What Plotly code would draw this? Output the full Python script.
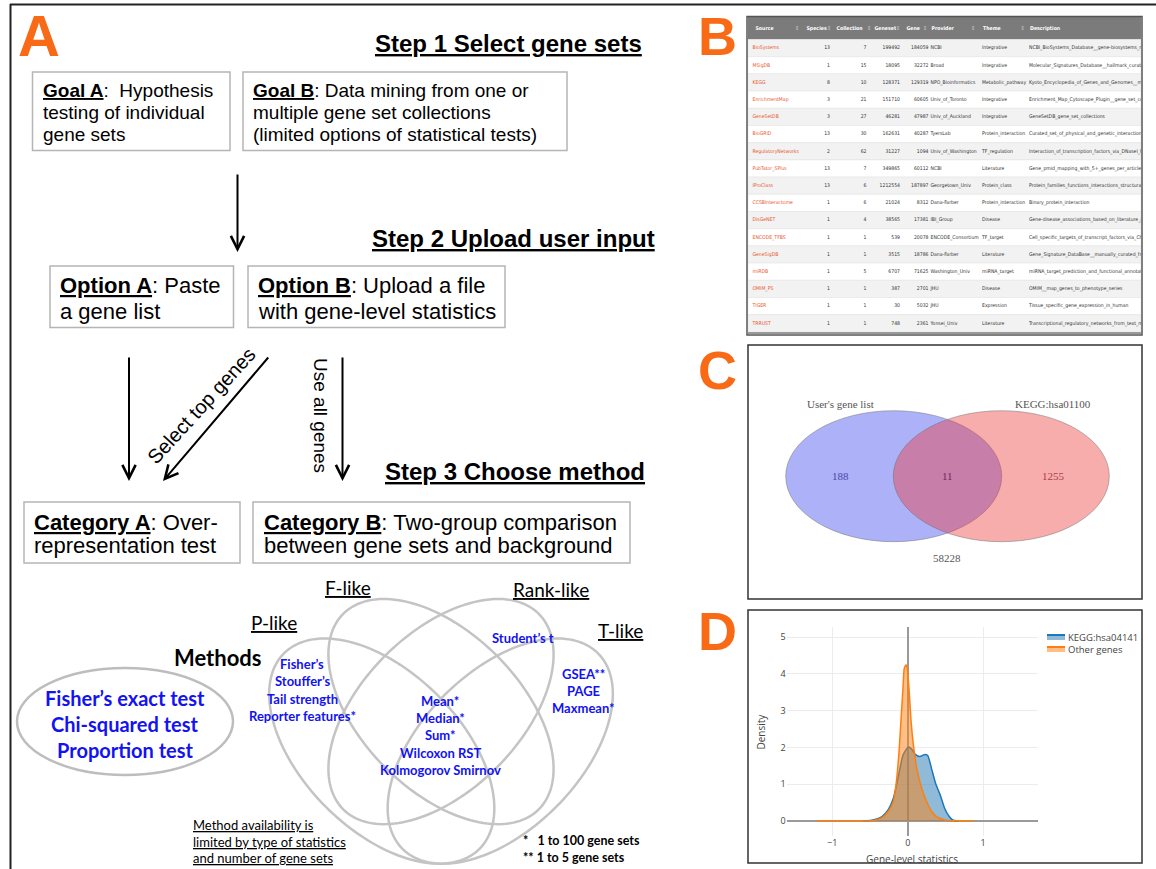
import numpy as np
import plotly.graph_objects as go

W, H = 1156, 869
ARIAL = "Liberation Sans, Arial, sans-serif"
NARROW = "Liberation Sans Narrow, DejaVu Sans Condensed, Liberation Sans, sans-serif"
CAL = "Lato, Carlito, Calibri, sans-serif"
TIMES = "Liberation Serif, Times New Roman, serif"
OPEN = "Open Sans, sans-serif"
ORANGE = "#F96A17"
BLUE_TXT = "#1212F2"

# ---------------- Panel B data ----------------
headers = ["Source", "Species", "Collection", "Geneset", "Gene", "Provider", "Theme", "Description"]
sources = ["BioSystems", "MSigDB", "KEGG", "EnrichmentMap", "GeneSetDB", "BioGRID",
           "RegulatoryNetworks", "PubTator_SPlus", "IProClass", "CCSBInteractome", "DisGeNET",
           "ENCODE_TFBS", "GeneSigDB", "miRDB", "OMIM_PS", "TIGER", "TRRUST"]
species = [13, 1, 8, 3, 3, 13, 2, 13, 13, 1, 1, 1, 1, 1, 1, 1, 1]
collections = [7, 15, 10, 21, 27, 30, 62, 7, 6, 6, 4, 1, 1, 5, 1, 1, 1]
genesets = [199492, 18095, 128371, 151710, 46281, 162631, 31227, 349865, 1212554, 21024,
            38565, 539, 3515, 6707, 387, 30, 748]
genes = [184059, 32272, 129319, 60605, 47987, 40287, 1094, 60112, 187897, 8312, 17381,
         20078, 18786, 71625, 2701, 5032, 2361]
providers = ["NCBI", "Broad", "NPO_Bioinformatics", "Univ_of_Toronto", "Univ_of_Auckland",
             "TyersLab", "Univ_of_Washington", "NCBI", "Georgetown_Univ", "Dana-Farber",
             "IBI_Group", "ENCODE_Consortium", "Dana-Farber", "Washington_Univ", "JHU", "JHU",
             "Yonsei_Univ"]
themes = ["Integrative", "Integrative", "Metabolic_pathway", "Integrative", "Integrative",
          "Protein_interaction", "TF_regulation", "Literature", "Protein_class",
          "Protein_interaction", "Disease", "TF_target", "Literature", "miRNA_target", "Disease",
          "Expression", "Literature"]
descriptions = [
    "NCBI_BioSystems_Database__gene-biosystems_mapping",
    "Molecular_Signatures_Database__hallmark_curated_gene_sets",
    "Kyoto_Encyclopedia_of_Genes_and_Genomes__metabolic",
    "Enrichment_Map_Cytoscape_Plugin__gene_set_collections",
    "GeneSetDB_gene_set_collections",
    "Curated_set_of_physical_and_genetic_interactions",
    "Interaction_of_transcription_factors_via_DNaseI_footprinting",
    "Gene_pmid_mapping_with_5+_genes_per_article",
    "Protein_families_functions_interactions_structural_",
    "Binary_protein_interaction",
    "Gene-disease_associations_based_on_literature_and_",
    "Cell_specific_targets_of_transcript_factors_via_ChIP-seq",
    "Gene_Signature_DataBase__manually_curated_from_literature",
    "miRNA_target_prediction_and_functional_annotation",
    "OMIM__map_genes_to_phenotype_series",
    "Tissue_specific_gene_expression_in_human",
    "Transcriptional_regulatory_networks_from_text_mining",
]

# ---------------- Panel C data ----------------
venn_labels = ["User's gene list", "KEGG:hsa01100"]
venn_counts = [188, 11, 1255]
venn_outside = 58228

# ---------------- Panel D data ----------------
kegg_x = [-0.59, -0.48, -0.40, -0.34, -0.26, -0.19, -0.12, -0.06, 0.01, 0.05, 0.10, 0.16,
          0.23, 0.265, 0.32, 0.37, 0.43, 0.49, 0.55, 0.60, 0.67]
kegg_y = [0.0, 0.02, 0.06, 0.12, 0.30, 0.62, 1.25, 1.80, 2.01, 1.96, 1.81, 1.75,
          1.81, 1.78, 1.39, 1.02, 0.71, 0.34, 0.12, 0.02, 0.0]
other_x = [-1.20, -0.80, -0.48, -0.40, -0.34, -0.26, -0.19, -0.15, -0.115, -0.09, -0.06,
           -0.045, -0.02, -0.005, 0.02, 0.045, 0.075, 0.12, 0.185, 0.25, 0.32, 0.38, 0.49,
           0.63, 0.87]
other_y = [0.0, 0.003, 0.01, 0.04, 0.09, 0.25, 0.53, 1.07, 1.88, 2.70, 3.70, 4.15, 4.24,
           4.13, 3.51, 2.70, 2.07, 1.43, 0.89, 0.53, 0.25, 0.12, 0.03, 0.005, 0.0]
density_names = ["KEGG:hsa04141", "Other genes"]
density_lines = ["#1f77b4", "#ff7f0e"]
density_fills = ["rgba(31,119,180,0.5)", "rgba(255,127,14,0.5)"]

fig = go.Figure()
shapes = []
anns = []


def rect(x0, y0, x1, y1, color="#b5b5b5", width=1.5, fill="rgba(0,0,0,0)", ref="", layer="above"):
    shapes.append(dict(type="rect", xref="x" + ref, yref="y" + ref, x0=x0, y0=y0, x1=x1, y1=y1,
                       line=dict(color=color, width=width), fillcolor=fill, layer=layer))


def seg(x0, y0, x1, y1, color="#222", width=2, ref="", layer="above"):
    shapes.append(dict(type="line", xref="x" + ref, yref="y" + ref, x0=x0, y0=y0, x1=x1, y1=y1,
                       line=dict(color=color, width=width), layer=layer))


def txt(x, y, s, size, color="black", fam=ARIAL, xanchor="left", angle=0):
    anns.append(dict(x=x, y=y, xref="x", yref="y", text=s, showarrow=False, xanchor=xanchor,
                     yanchor="middle", textangle=angle, borderpad=0,
                     font=dict(size=size, color=color, family=fam)))


def arrow(x0, y0, x1, y1):
    anns.append(dict(x=x1, y=y1, ax=x0, ay=y0, xref="x", yref="y", axref="x", ayref="y",
                     text="", showarrow=True, arrowhead=5, arrowsize=1.3, arrowwidth=2,
                     arrowcolor="black", standoff=0))


def ellipse_path(cx, cy, a, b, deg):
    t = np.linspace(0, 2 * np.pi, 161)
    p = np.deg2rad(deg)
    xs = cx + a * np.cos(t) * np.cos(p) - b * np.sin(t) * np.sin(p)
    ys = cy + a * np.cos(t) * np.sin(p) + b * np.sin(t) * np.cos(p)
    return "M " + " L ".join(f"{x:.2f},{y:.2f}" for x, y in zip(xs, ys)) + " Z"


# ---------------- frame ----------------
seg(10, 4.5, W, 4.5, width=2)
seg(10.5, 4, 10.5, H, width=2)

# ---------------- Panel A ----------------
txt(39, 35, "<b>A</b>", 58, ORANGE, xanchor="center")

txt(374, 43, "<b><u>Step 1 Select gene sets</u></b>", 24)
txt(371, 238, "<b><u>Step 2 Upload user input</u></b>", 24)
txt(384, 471, "<b><u>Step 3 Choose method</u></b>", 24)

rect(32.5, 72, 230, 150.5)
rect(243, 72, 567, 150.5)
txt(42, 90, "<u><b>Goal A</b></u>:  Hypothesis", 19)
txt(42, 112, "testing of individual", 19)
txt(42, 134, "gene sets", 19)
txt(252, 90, "<u><b>Goal B</b></u>: Data mining from one or", 19)
txt(252, 112, "multiple gene set collections", 19)
txt(252, 134, "(limited options of statistical tests)", 19)

arrow(237.5, 173, 237.5, 252)

rect(50, 266, 233.5, 327.5)
rect(248, 266, 505, 327.5)
txt(59, 285, "<u><b>Option A</b></u>: Paste", 22)
txt(59, 311, "a gene list", 22)
txt(257, 285, "<u><b>Option B</b></u>: Upload a file", 22)
txt(257, 311, "with gene-level statistics", 22)

arrow(129, 356, 129, 481)
arrow(269.5, 356, 163, 481)
arrow(342.5, 356, 342.5, 481)
txt(201, 406, "Select top genes", 20, xanchor="center", angle=-47.5)
txt(320.5, 415.5, "Use all genes", 19, xanchor="center", angle=90)

rect(24, 502, 240, 563)
rect(253, 502, 630, 563)
txt(33, 522, "<u><b>Category A</b></u>: Over-", 22)
txt(33, 545, "representation test", 22)
txt(263, 522, "<u><b>Category B</b></u>: Two-group comparison", 22)
txt(263, 545, "between gene sets and background", 22)

# methods
shapes.append(dict(type="circle", xref="x", yref="y", x0=17, x1=233, y0=668, y1=775,
                   line=dict(color="#bdbdbd", width=2.5), layer="above"))
txt(125, 697.5, "<b>Fisher’s exact test</b>", 20, BLUE_TXT, CAL, "center")
txt(125, 723.5, "<b>Chi-squared test</b>", 20, BLUE_TXT, CAL, "center")
txt(125, 750, "<b>Proportion test</b>", 20, BLUE_TXT, CAL, "center")
txt(217.5, 657, "<b>Methods</b>", 22, "black", CAL, "center")

s = 395.0
def vx(u):
    return 441 + (u - 0.5) * s
def vy(v):
    return 599 + (0.855 - v) * s
for (cu, cv, rot) in [(0.35, 0.47, 45), (0.50, 0.57, 45), (0.50, 0.57, -45), (0.65, 0.47, -45)]:
    shapes.append(dict(type="path", xref="x", yref="y",
                       path=ellipse_path(vx(cu), vy(cv), 0.35 * s, 0.20 * s, rot),
                       line=dict(color="#c4c4c4", width=2.5), layer="above"))

txt(274, 622, "<u>P-like</u>", 19, "black", CAL, "center")
txt(347.5, 587, "<u>F-like</u>", 19, "black", CAL, "center")
txt(551, 589, "<u>Rank-like</u>", 19, "black", CAL, "center")
txt(620.5, 630, "<u>T-like</u>", 19, "black", CAL, "center")

for i, s_ in enumerate(["Fisher’s", "Stouffer’s", "Tail strength", "Reporter features*"]):
    txt(302, 664 + i * 17.3, f"<b>{s_}</b>", 13, BLUE_TXT, CAL, "center")
txt(523, 638, "<b>Student’s t</b>", 13, BLUE_TXT, CAL, "center")
for i, s_ in enumerate(["GSEA**", "PAGE", "Maxmean*"]):
    txt(583, 673.5 + i * 17, f"<b>{s_}</b>", 13, BLUE_TXT, CAL, "center")
for i, s_ in enumerate(["Mean*", "Median*", "Sum*", "Wilcoxon RST", "Kolmogorov Smirnov"]):
    txt(440, 700.5 + i * 17.4, f"<b>{s_}</b>", 13, BLUE_TXT, CAL, "center")
for i, s_ in enumerate(["Method availability is", "limited by type of statistics",
                        "and number of gene sets"]):
    txt(192, 825 + i * 16.7, f"<u>{s_}</u>", 13, "black", CAL)
txt(522, 840.5, "<b>*   1 to 100 gene sets</b>", 12.5, "black", CAL)
txt(522, 857, "<b>** 1 to 5 gene sets</b>", 12.5, "black", CAL)

# ---------------- Panel B (table) ----------------
txt(717.5, 36, "<b>B</b>", 54, ORANGE, xanchor="center")
rect(747, 16.5, 1142, 335, color="#555", width=1.5)

TX0, TX1, TY0, TY1 = 748, 1141, 17, 334
rect(TX0, TY0, TX1, 39.5, color="#7b7b7b", width=0, fill="#7b7b7b", ref="3", layer="below")
ROW0, RH = 39.5, 17.2
for i in range(len(sources)):
    y0 = ROW0 + i * RH
    rect(TX0, y0, TX1, y0 + RH, color="#e4e4e4", width=0.6,
         fill="#f2f2f2" if i % 2 == 0 else "#ffffff", ref="3", layer="below")
seg(TX0, 333, TX1, 333, color="#9a9a9a", width=2, ref="3", layer="below")

TFS = 5.1
row_y = [ROW0 + RH / 2 + i * RH for i in range(len(sources))]
hdr_x = [755.5, 806.5, 836.5, 874.5, 906.5, 931.5, 983, 1030]
hdr_y = [28.5] * len(headers)
fig.add_trace(go.Scatter(x=hdr_x, y=hdr_y, text=[f"<b>{h}</b>" for h in headers], mode="text",
                         textposition="middle right", xaxis="x3", yaxis="y3",
                         textfont=dict(size=5.2, color="white", family=NARROW),
                         hoverinfo="skip", showlegend=False, cliponaxis=True))
icon_x = [797, 829, 869, 898, 925, 973, 1022.5]
fig.add_trace(go.Scatter(x=icon_x, y=[28.5] * len(icon_x), text=["⇕"] * len(icon_x), mode="text",
                         xaxis="x3", yaxis="y3",
                         textfont=dict(size=5.5, color="#c8c8c8", family="DejaVu Sans"),
                         hoverinfo="skip", showlegend=False))
columns = [
    (sources, 752.5, "middle right", "#E8572C"),
    ([str(v) for v in species], 830, "middle left", "#333"),
    ([str(v) for v in collections], 866.5, "middle left", "#333"),
    ([str(v) for v in genesets], 900, "middle left", "#333"),
    ([str(v) for v in genes], 928.5, "middle left", "#333"),
    (providers, 930.5, "middle right", "#333"),
    (themes, 982, "middle right", "#333"),
    (descriptions, 1029, "middle right", "#333"),
]
for vals, cx, pos, col in columns:
    fig.add_trace(go.Scatter(x=[cx] * len(vals), y=row_y, text=vals, mode="text",
                             textposition=pos, xaxis="x3", yaxis="y3", cliponaxis=True,
                             textfont=dict(size=TFS, color=col, family=NARROW),
                             hoverinfo="skip", showlegend=False))

# ---------------- Panel C (Venn) ----------------
txt(717.5, 369.5, "<b>C</b>", 54, ORANGE, xanchor="center")
rect(748, 345, 1142, 599, color="#333", width=1.5)
shapes.append(dict(type="circle", xref="x", yref="y", x0=785.7, x1=1001.7, y0=410.7, y1=541.7,
                   fillcolor="rgba(50,60,235,0.40)", line=dict(color="rgba(110,110,110,0.6)", width=0.8),
                   layer="above"))
shapes.append(dict(type="circle", xref="x", yref="y", x0=893.3, x1=1109.3, y0=410.7, y1=541.7,
                   fillcolor="rgba(238,51,51,0.40)", line=dict(color="rgba(110,110,110,0.6)", width=0.8),
                   layer="above"))
txt(840, 403.5, venn_labels[0], 11, "#555", TIMES, "center")
txt(1053, 403.5, venn_labels[1], 11, "#555", TIMES, "center")
txt(840, 476, str(venn_counts[0]), 11, "#4848a8", TIMES, "center")
txt(947, 476, str(venn_counts[1]), 11, "#6e2a62", TIMES, "center")
txt(1053, 476, str(venn_counts[2]), 11, "#a84048", TIMES, "center")
txt(947, 558, str(venn_outside), 11, "#555", TIMES, "center")

# ---------------- Panel D (density) ----------------
txt(717.5, 630.5, "<b>D</b>", 54, ORANGE, xanchor="center")
rect(748, 610, 1142, 863, color="#333", width=1.5)
for xs, ys, nm, lc, fc in [(kegg_x, kegg_y, density_names[0], density_lines[0], density_fills[0]),
                           (other_x, other_y, density_names[1], density_lines[1], density_fills[1])]:
    fig.add_trace(go.Scatter(x=xs, y=ys, mode="lines", fill="tozeroy", name=nm,
                             line=dict(color=lc, width=1.5, shape="spline", smoothing=0.65),
                             fillcolor=fc, xaxis="x2", yaxis="y2", showlegend=False))
txt(760, 731.5, "Density", 10, "#444", OPEN, "center", angle=-90)
txt(912, 859, "Gene-level statistics", 10, "#444", OPEN, "center")
# legend (drawn by hand to match the compact spacing)
for i, (nm, lc, fc) in enumerate(zip(density_names, density_lines, density_fills)):
    yc = 637 + i * 12
    rect(1047, yc - 3, 1065, yc + 3, color=fc, width=0, fill=fc)
    seg(1047, yc - 2, 1065, yc - 2, color=lc, width=2)
    txt(1067, yc, nm, 9.5, "#444", OPEN)

# invisible anchor trace for overlay axes
fig.add_trace(go.Scatter(x=[0], y=[0], mode="none", showlegend=False, hoverinfo="skip",
                         xaxis="x", yaxis="y"))

PX0, PX1, PY0, PY1 = 786.7, 1037.7, 626.7, 836
fig.update_layout(
    width=W, height=H, margin=dict(l=0, r=0, t=0, b=0),
    paper_bgcolor="white", plot_bgcolor="rgba(0,0,0,0)",
    shapes=shapes, annotations=anns, showlegend=False,
    xaxis=dict(domain=[0, 1], range=[0, W], visible=False, fixedrange=True),
    yaxis=dict(domain=[0, 1], range=[H, 0], visible=False, fixedrange=True),
    xaxis3=dict(domain=[TX0 / W, TX1 / W], range=[TX0, TX1], visible=False, anchor="y3"),
    yaxis3=dict(domain=[1 - TY1 / H, 1 - TY0 / H], range=[TY1, TY0], visible=False, anchor="x3"),
    xaxis2=dict(domain=[PX0 / W, PX1 / W], range=[-1.603, 1.722], anchor="y2",
                tickvals=[-1, 0, 1], showgrid=True, gridcolor="#ececec", zeroline=True,
                zerolinecolor="#9a9a9a", zerolinewidth=1.5, showline=False, ticks="",
                tickfont=dict(size=9, color="#444", family=OPEN)),
    yaxis2=dict(domain=[1 - PY1 / H, 1 - PY0 / H], range=[-(PY1 - 821) / 36.8, 5.28], anchor="x2",
                tickvals=[0, 1, 2, 3, 4, 5], showgrid=True, gridcolor="#ececec", zeroline=True,
                zerolinecolor="#9a9a9a", zerolinewidth=1.5, showline=False, ticks="",
                tickfont=dict(size=9, color="#444", family=OPEN)),
)

fig.write_html("out.html", config={"displayModeBar": False},
               post_script="document.body.style.margin='0';")
